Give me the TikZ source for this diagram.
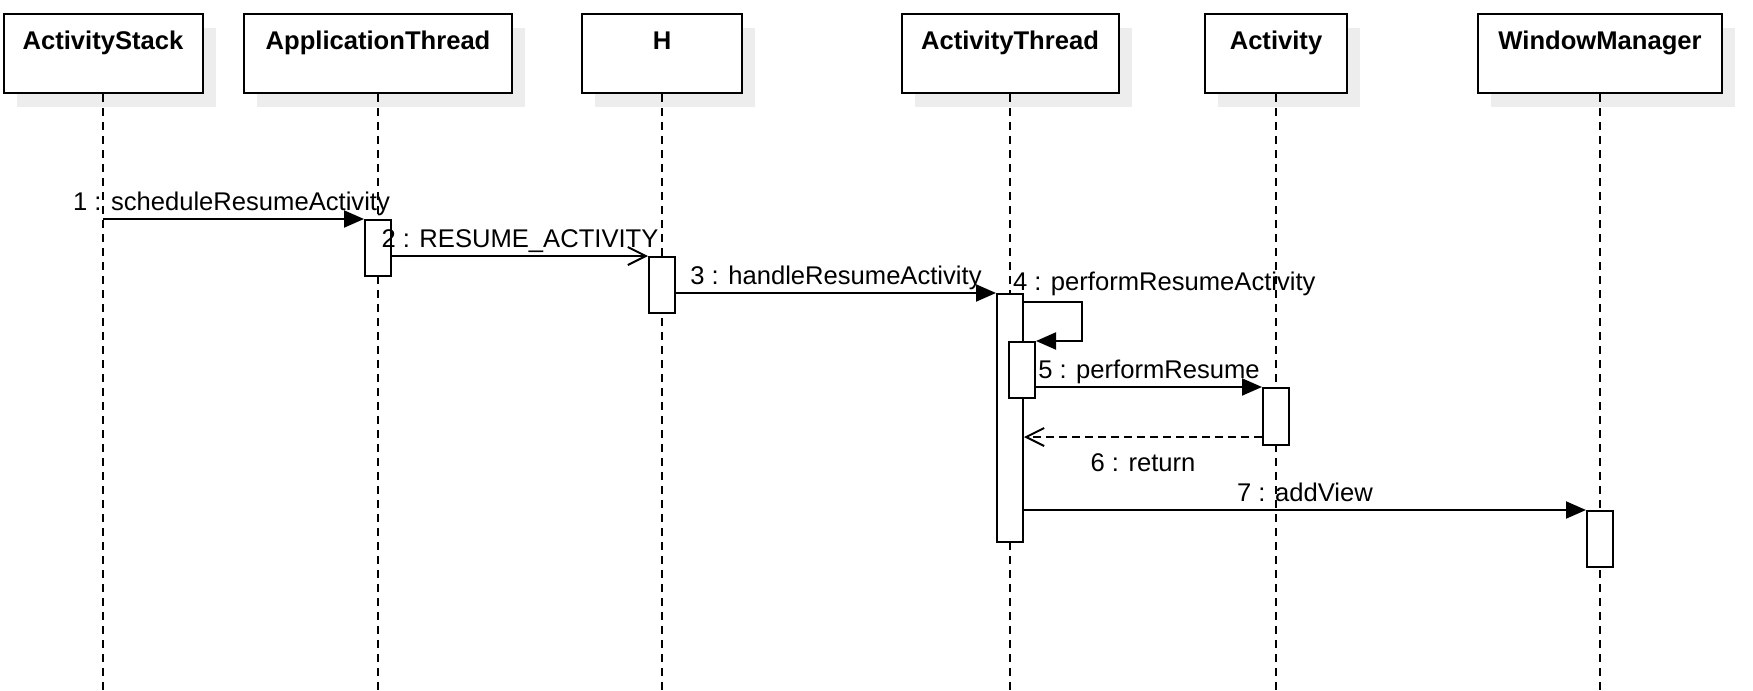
\documentclass[tikz,border=0pt]{standalone}
\usepackage{fontspec}
\setmainfont{Liberation Sans}
\usetikzlibrary{arrows.meta, positioning, shadows, calc}

\begin{document}
\begin{tikzpicture}[x=0.5pt, y=-0.5pt, line width=1pt,
    font=\fontsize{12.8}{15}\selectfont,
    head/.style={draw, rectangle, fill=white, anchor=north, inner sep=0pt,
        font=\fontsize{12.8}{15}\selectfont\bfseries,
        text height=17.5pt, text depth=22pt,
        drop shadow={shadow xshift=6.5pt, shadow yshift=-7pt, fill=black!7, opacity=1}},
    life/.style={line width=0.8pt, dash pattern=on 4pt off 3pt},
    actbox/.style={draw, rectangle, fill=white, anchor=north, inner sep=0pt, minimum width=13pt},
    call/.style={-{Triangle[length=10pt, width=8.5pt]}},
    async/.style={-{Straight Barb[length=9pt, width=9pt]}},
    reply/.style={-{Straight Barb[length=9pt, width=9pt]}, dash pattern=on 4pt off 2.5pt},
    lbl/.style={inner sep=0pt, text height=9pt, text depth=3pt}]
\useasboundingbox (0,0) rectangle (1753,691);
\coordinate (bottom) at (0,691);

% heads
\node[head, minimum width=99.5pt] (as) at (103,13) {ActivityStack};
\node[head, minimum width=134pt] (at) at (378,13) {ApplicationThread};
\node[head, minimum width=80pt] (h) at (662,13) {H};
\node[head, minimum width=108.5pt] (ath) at (1010,13) {ActivityThread};
\node[head, minimum width=71pt] (act) at (1276,13) {Activity};
\node[head, minimum width=122pt] (wm) at (1600,13) {WindowManager};

% lifelines
\foreach \n in {as, at, h, ath, act, wm}
    \draw[life] (\n.south) -- (\n.south |- bottom);

% activations
\node[actbox, minimum height=28pt] (atAct) at (378,219) {};
\node[actbox, minimum height=28pt] (hAct) at (662,256) {};
\node[actbox, minimum height=124pt] (athAct) at (1010,293) {};
\node[actbox, minimum height=28pt] (athSub) at (1022,341) {};
\node[actbox, minimum height=28.5pt] (actAct) at (1276,387) {};
\node[actbox, minimum height=28pt] (wmAct) at (1600,510) {};

% messages
\draw[call] (as |- atAct.north) -- node[lbl, above=1pt, xshift=-1pt] {1 : scheduleResumeActivity} (atAct.north west);
\draw[async] (atAct.east |- hAct.north) -- node[lbl, above=1pt] {2 : RESUME\_ACTIVITY} (hAct.north west);
\draw[call] (hAct.east |- athAct.north) -- node[lbl, above=1pt] {3 : handleResumeActivity} (athAct.north west);
\draw[call] ($(athAct.north east)+(0,9)$) node[lbl, anchor=south west, xshift=-6pt, yshift=2.5pt] {4 : performResumeActivity}
    -- ++(58,0) |- (athSub.north east);
\draw[call] (athSub.east |- actAct.north) -- node[lbl, above=1pt] {5 : performResume} (actAct.north west);
\draw[reply] ($(actAct.south west)+(0,-9)$) coordinate (retA) -- node[lbl, below=7.5pt] {6 : return} (athAct.east |- retA);
\draw[call] (athAct.east |- wmAct.north) -- node[lbl, above=1pt] {7 : addView} (wmAct.north west);
\end{tikzpicture}
\end{document}
